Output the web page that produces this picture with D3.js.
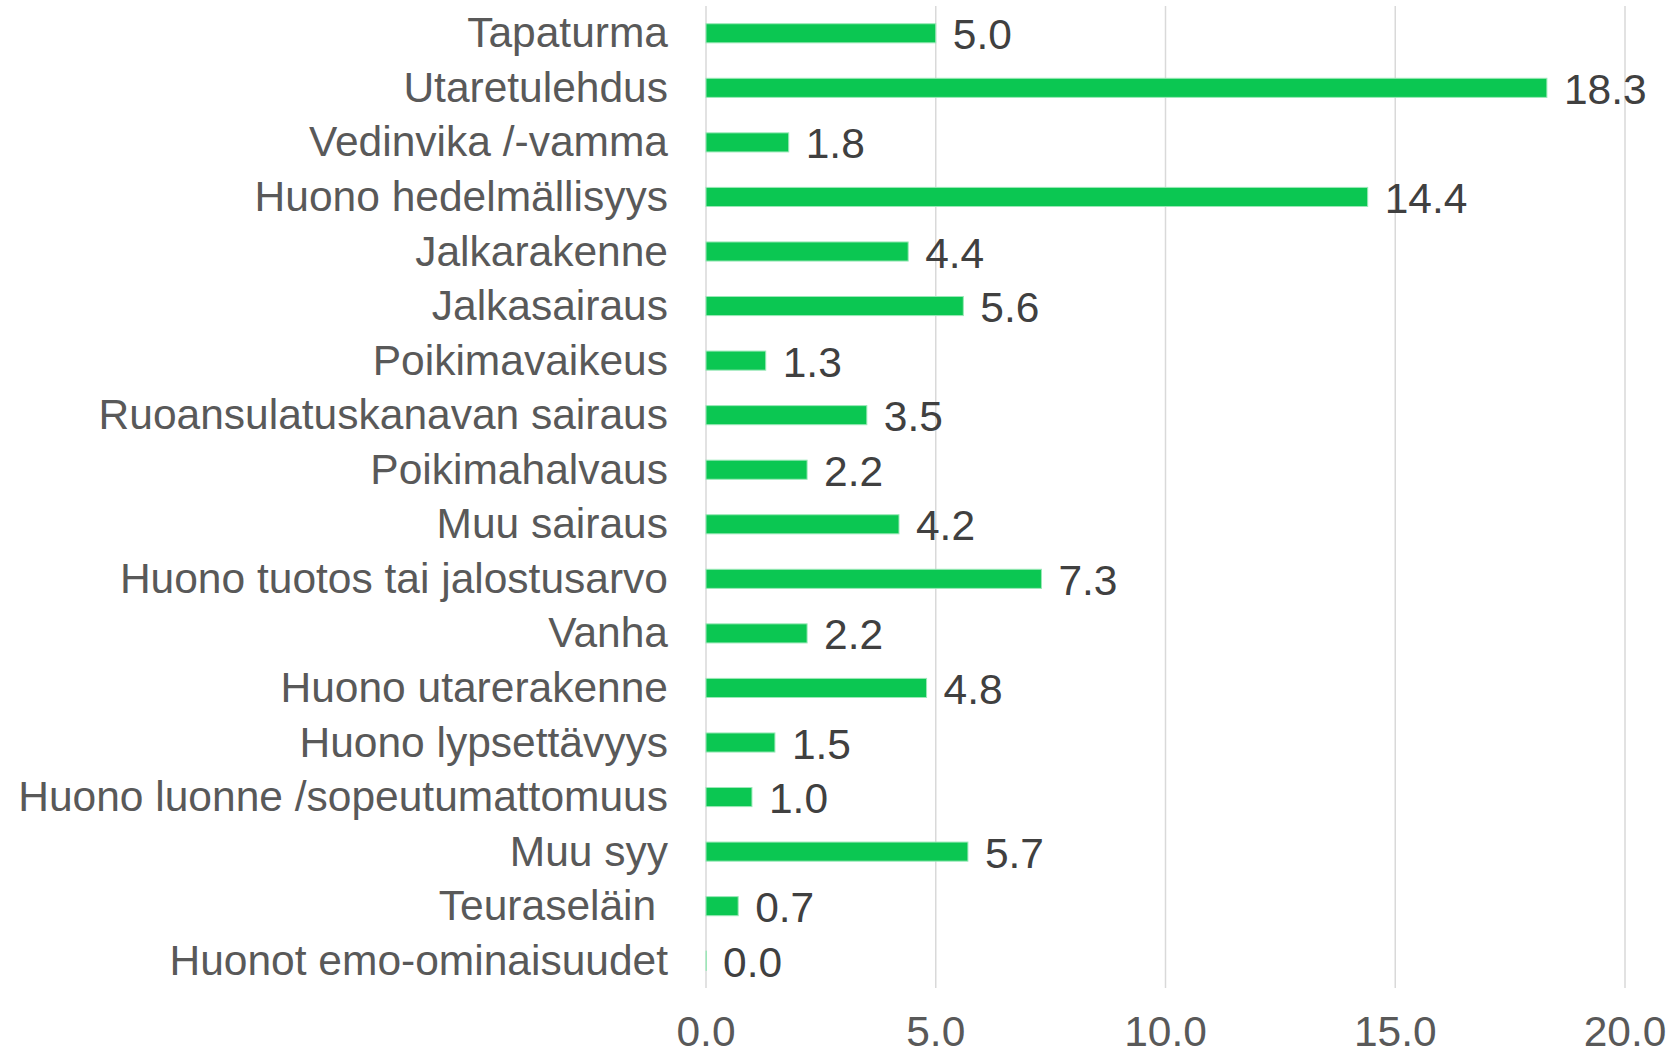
<!DOCTYPE html>
<html>
<head>
<meta charset="utf-8">
<script src="https://cdn.jsdelivr.net/npm/d3@7"></script>
<style>
  body { margin: 0; background: #fff; }
  text { font-family: "Liberation Sans", Arial, sans-serif; }
</style>
</head>
<body>
<div id="chart"></div>
<script>
var categories = ["Tapaturma", "Utaretulehdus", "Vedinvika /-vamma", "Huono hedelmällisyys",
  "Jalkarakenne", "Jalkasairaus", "Poikimavaikeus", "Ruoansulatuskanavan sairaus",
  "Poikimahalvaus", "Muu sairaus", "Huono tuotos tai jalostusarvo", "Vanha",
  "Huono utarerakenne", "Huono lypsettävyys", "Huono luonne /sopeutumattomuus",
  "Muu syy", "Teuraseläin ", "Huonot emo-ominaisuudet"];
var values = [5.0, 18.3, 1.8, 14.4, 4.4, 5.6, 1.3, 3.5, 2.2, 4.2, 7.3, 2.2, 4.8, 1.5, 1.0, 5.7, 0.7, 0.0];
var ticks = [0, 5, 10, 15, 20];

var width = 1668, height = 1054;
var margin = { top: 6, left: 706, right: 43, bottom: 66 };
var fontSize = 42.5;

var svg = d3.select("#chart").append("svg")
  .attr("width", width)
  .attr("height", height);

var x = d3.scaleLinear().domain([0, 20]).range([margin.left, width - margin.right]);
var y = d3.scaleBand().domain(categories)
  .range([margin.top, height - margin.bottom])
  .paddingInner(0.65).paddingOuter(0.325);

// gridlines
svg.append("g").selectAll("line")
  .data(ticks).enter().append("line")
  .attr("x1", function(d) { return x(d); })
  .attr("x2", function(d) { return x(d); })
  .attr("y1", margin.top)
  .attr("y2", height - margin.bottom)
  .attr("stroke", "#d9d9d9")
  .attr("stroke-width", 1.5);

// x tick labels
svg.append("g").selectAll("text")
  .data(ticks).enter().append("text")
  .attr("x", function(d) { return x(d); })
  .attr("y", 1046)
  .attr("text-anchor", "middle")
  .attr("font-size", fontSize)
  .attr("fill", "#595959")
  .text(function(d) { return d.toFixed(1); });

// bars
svg.append("g").selectAll("rect")
  .data(values).enter().append("rect")
  .attr("x", x(0))
  .attr("y", function(d, i) { return y(categories[i]); })
  .attr("width", function(d) { return Math.max(x(d) - x(0), 0.5); })
  .attr("height", y.bandwidth())
  .attr("fill", "#0bc752")
  .attr("stroke", "#9ce8b8")
  .attr("stroke-width", 1);

// category labels
svg.append("g").selectAll("text")
  .data(categories).enter().append("text")
  .attr("x", 668)
  .attr("y", function(d) { return y(d) + y.bandwidth() / 2 + 14; })
  .attr("text-anchor", "end")
  .attr("font-size", fontSize)
  .attr("fill", "#595959")
  .attr("xml:space", "preserve")
  .text(function(d) { return d; });

// value labels
svg.append("g").selectAll("text")
  .data(values).enter().append("text")
  .attr("x", function(d) { return x(d) + 17; })
  .attr("y", function(d, i) { return y(categories[i]) + y.bandwidth() / 2 + 16; })
  .attr("font-size", fontSize)
  .attr("fill", "#404040")
  .text(function(d) { return d.toFixed(1); });
</script>
</body>
</html>
